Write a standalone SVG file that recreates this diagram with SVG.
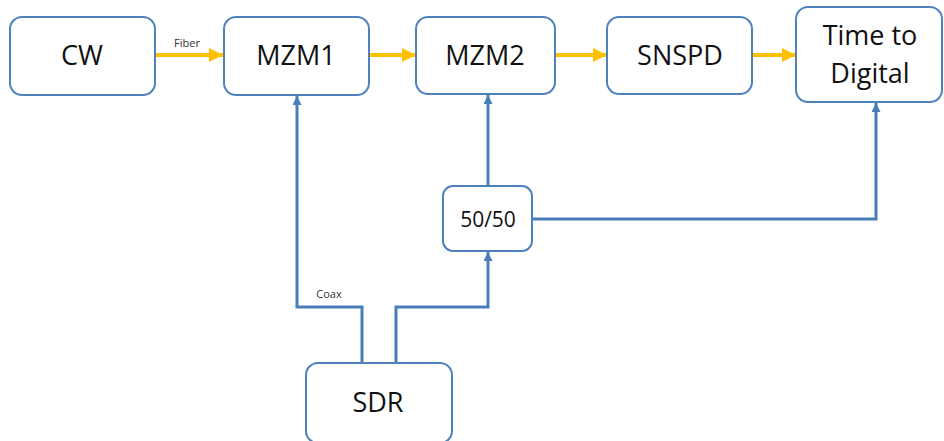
<svg xmlns="http://www.w3.org/2000/svg" width="944" height="441" viewBox="0 0 944 441">
<style>
.box{fill:#fff;stroke:#4F81BD;stroke-width:2}
.lbl{font-family:"Open Sans","Liberation Sans",Arial,sans-serif;fill:#111;text-anchor:middle}
.big{font-size:27px}
.small{font-size:11px;fill:#333}
.fib{stroke:#FFC000;stroke-width:4;fill:none}
.cx{stroke:#4A7EBB;stroke-width:3;fill:none}
</style>
<defs>
<marker id="ya" markerUnits="userSpaceOnUse" markerWidth="14" markerHeight="14" refX="14" refY="7" orient="auto"><path d="M0,0 L14,7 L0,14 Z" fill="#FFC000"/></marker>
<marker id="ba" markerUnits="userSpaceOnUse" markerWidth="9" markerHeight="10" refX="9" refY="4.5" orient="auto"><path d="M0,0 L9,4.5 L0,9 Z" fill="#4A7EBB"/></marker>
</defs>
<rect width="944" height="441" fill="#fff"/>
<g id="connectors">
<path class="fib" d="M156,55 H223" marker-end="url(#ya)"/>
<path class="fib" d="M370,55 H416" marker-end="url(#ya)"/>
<path class="fib" d="M556,55 H607" marker-end="url(#ya)"/>
<path class="fib" d="M753,55 H796" marker-end="url(#ya)"/>
<path class="cx" d="M362,363 V307 H297 V96" marker-end="url(#ba)"/>
<path class="cx" d="M396,363 V307 H488 V252" marker-end="url(#ba)"/>
<path class="cx" d="M488,186 V95" marker-end="url(#ba)"/>
<path class="cx" d="M533,219 H876 V103" marker-end="url(#ba)"/>
<text class="lbl small" x="187" y="47">Fiber</text>
<text class="lbl small" x="329" y="298">Coax</text>
</g>
<g id="cw"><rect class="box" x="10" y="17" width="145" height="78" rx="12"/><text class="lbl big" x="82" y="65">CW</text></g>
<g id="mzm1"><rect class="box" x="224" y="17" width="145" height="78" rx="12"/><text class="lbl big" x="296" y="65">MZM1</text></g>
<g id="mzm2"><rect class="box" x="416" y="17" width="139" height="77" rx="12"/><text class="lbl big" x="485" y="65">MZM2</text></g>
<g id="snspd"><rect class="box" x="607" y="17" width="145" height="77" rx="12"/><text class="lbl big" x="680" y="65">SNSPD</text></g>
<g id="tdc"><rect class="box" x="796" y="7" width="146" height="95" rx="12"/><text class="lbl big" x="870" y="45">Time to</text><text class="lbl big" x="870" y="83">Digital</text></g>
<g id="splitter"><rect class="box" x="443" y="186" width="89" height="65" rx="10"/><text class="lbl" style="font-size:21px" x="488" y="227">50/50</text></g>
<g id="sdr"><rect class="box" x="306" y="363" width="146" height="80" rx="12"/><text class="lbl big" x="378" y="412">SDR</text></g>
</svg>
